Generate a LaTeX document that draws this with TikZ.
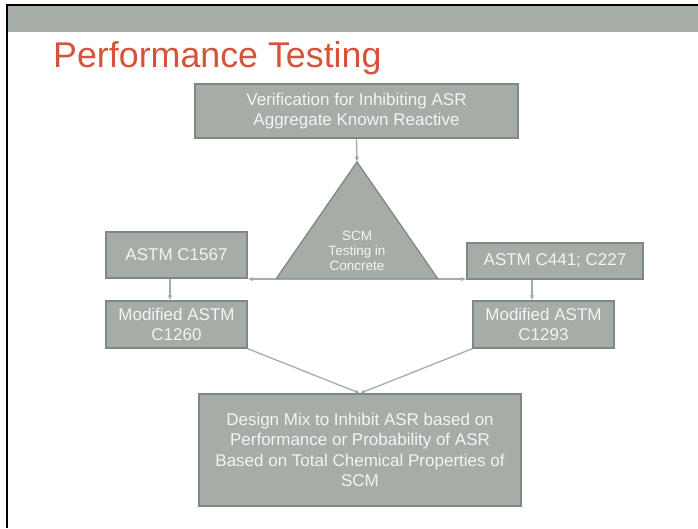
\documentclass[tikz,border=0pt]{standalone}
\usepackage{fontspec}
\setmainfont{Liberation Sans}
\usetikzlibrary{positioning,arrows.meta,calc}

\definecolor{slidegray}{HTML}{A5ADA6}
\definecolor{boxedge}{HTML}{7E8981}
\definecolor{titlered}{HTML}{D6533A}
\definecolor{boxtext}{HTML}{F4F4F4}

\begin{document}
\begin{tikzpicture}[
    x=1pt, y=-1pt,
    >=Latex,
    stepbox/.style={
        rectangle,
        draw=boxedge,
        fill=slidegray,
        line width=1.3pt,
        text=boxtext,
        align=center,
        inner sep=0pt,
        font=\fontsize{17}{20.5}\selectfont
    },
    conn/.style={-{Latex[length=5pt, width=4.5pt]}, line width=1.3pt, draw=slidegray, fill=slidegray}
]
\useasboundingbox (0,0) rectangle (698,528);

% --- Marco y banda superior ---
\fill[slidegray] (8,6) rectangle (698,32);
\draw[line width=2pt] (7,528) -- (7,5) -- (698,5);

% --- Titulo ---
\node[anchor=base west, inner sep=0pt, text=titlered,
      font=\fontsize{35.8}{40}\selectfont] (title) at (53,67) {Performance Testing};

% --- Caja superior ---
\node[stepbox, minimum width=323pt, minimum height=54pt] (verif) at (356.5,111)
    {Verification for Inhibiting ASR\\Aggregate Known Reactive};

% --- Triangulo ---
\coordinate (apex) at (357,162);
\coordinate (tl) at (276,279);
\coordinate (tr) at (438,279);
\filldraw[fill=slidegray, draw=boxedge, line width=1.3pt] (apex) -- (tr) -- (tl) -- cycle;
\node[text=boxtext, align=center, font=\fontsize{13.5}{15}\selectfont] (scm) at (357,251)
    {SCM\\Testing in\\Concrete};

% --- Cajas laterales ---
\node[stepbox, minimum width=141pt, minimum height=46pt] (c1567) at (176.5,255) {ASTM C1567};
\node[stepbox, minimum width=141pt, minimum height=47pt] (c1260) at (176.5,324.5)
    {Modified ASTM\\C1260};
\node[stepbox, minimum width=176pt, minimum height=36pt] (c441) at (555,261) {ASTM C441; C227};
\node[stepbox, minimum width=141pt, minimum height=47pt] (c1293) at (543.5,324.5)
    {Modified ASTM\\C1293};

% --- Caja inferior ---
\node[stepbox, minimum width=322pt, minimum height=112pt] (design) at (360,450)
    {Design Mix to Inhibit ASR based on\\Performance or Probability of ASR\\Based on Total Chemical Properties of\\SCM};

% --- Flechas ---
\draw[conn] (verif.south) -- (apex);
\draw[conn] (tl) -- (tl -| c1567.east);
\draw[conn] (tr) -- (tr -| c441.west);
\draw[conn] ([xshift=-6.5pt]c1567.south) -- ([xshift=-6.5pt]c1567.south |- c1260.north);
\draw[conn] ([xshift=-23pt]c441.south) -- ([xshift=-23pt]c441.south |- c1293.north);
\draw[conn] (c1260.south east) -- (design.north);
\draw[conn] (c1293.south west) -- (design.north);

\end{tikzpicture}
\end{document}
